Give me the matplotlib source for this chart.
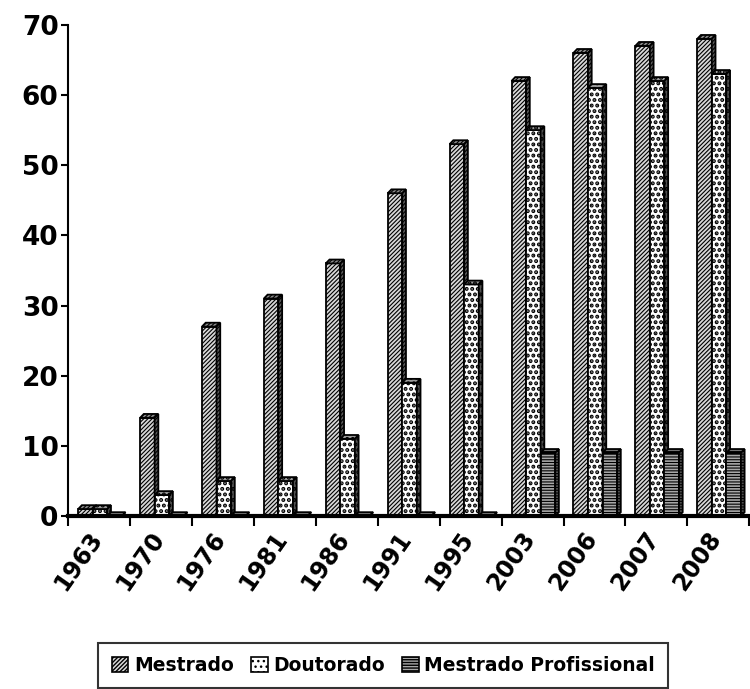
import numpy as np
import matplotlib
matplotlib.use("Agg")
import matplotlib.pyplot as plt
from matplotlib.patches import Polygon, Patch
from matplotlib.transforms import ScaledTranslation

# Number of courses per year
anos = ["1963", "1970", "1976", "1981", "1986", "1991", "1995",
        "2003", "2006", "2007", "2008"]
mestrado = [1, 14, 27, 31, 36, 46, 53, 62, 66, 67, 68]
doutorado = [1, 3, 5, 5, 11, 19, 33, 55, 61, 62, 63]
mestrado_prof = [0, 0, 0, 0, 0, 0, 0, 9, 9, 9, 9]

# name, values, front colour, hatch, hatch linewidth, top colour, side colour
series = [
    ("Mestrado", mestrado, "#d8d8d8", "////////", 0.8, "#8a8a8a", "#5a5a5a"),
    ("Doutorado", doutorado, "white", "...", 2.0, "#9a9a9a", "#505050"),
    ("Mestrado Profissional", mestrado_prof, "#a8a8a8", "------", 0.8, "#8a8a8a", "#505050"),
]

plt.rcParams["font.family"] = "DejaVu Sans"
plt.rcParams["font.weight"] = "bold"

fig = plt.figure(figsize=(7.5, 6.89), dpi=100)
ax = fig.add_axes([0.091, 0.251, 0.908, 0.713])

x = np.arange(len(anos))
width = 0.235
start = -0.5 + 0.16
dx, dy = 0.06, 0.55  # depth of the fake 3D faces

for i, (name, vals, fc, hatch, hlw, topc, sidec) in enumerate(series):
    with plt.rc_context({"hatch.linewidth": hlw}):
        left = x + start + i * width
        bars = ax.bar(left, vals, width=width, align="edge", facecolor=fc,
                      edgecolor="black", linewidth=1.3, hatch=hatch, zorder=3 + i)
        for b in bars:
            x0, h = b.get_x(), b.get_height()
            x1 = x0 + width
            top = Polygon([(x0, h), (x0 + dx, h + dy), (x1 + dx, h + dy), (x1, h)],
                          closed=True, facecolor=topc, edgecolor="black",
                          linewidth=1.3, hatch=hatch, zorder=3 + i)
            side = Polygon([(x1, 0), (x1 + dx, dy), (x1 + dx, h + dy), (x1, h)],
                           closed=True, facecolor=sidec, edgecolor="black",
                           linewidth=1.3, hatch=hatch, zorder=3 + i)
            ax.add_patch(top)
            ax.add_patch(side)

ax.set_xlim(-0.5, len(anos) - 0.5)
ax.set_ylim(0, 70)
ax.set_yticks(range(0, 71, 10))
ax.tick_params(axis="y", labelsize=19, width=1.5, length=5, direction="out", pad=2)

ax.set_xticks(x)
ax.set_xticklabels(anos, rotation=55, ha="right", rotation_mode="anchor", fontsize=17)
ax.set_xticks(np.arange(-0.5, len(anos), 1), minor=True)
ax.tick_params(axis="x", which="major", length=0, pad=8)
ax.tick_params(axis="x", which="minor", length=7, width=1.5, direction="out")
shift = ScaledTranslation(-12 / 100, 0, fig.dpi_scale_trans)
for lbl in ax.get_xticklabels():
    lbl.set_transform(lbl.get_transform() + shift)

for s in ["top", "right"]:
    ax.spines[s].set_visible(False)
ax.spines["left"].set_linewidth(1.5)
ax.spines["bottom"].set_linewidth(3)
ax.spines["bottom"].set_zorder(10)

handles = []
for name, vals, fc, hatch, hlw, topc, sidec in series:
    with plt.rc_context({"hatch.linewidth": hlw}):
        handles.append(Patch(facecolor=fc, edgecolor="black", hatch=hatch,
                             linewidth=1.2, label=name))
leg = fig.legend(handles=handles, loc="upper center", bbox_to_anchor=(0.511, 0.067),
                 ncol=3, fontsize=13.5, frameon=True, fancybox=False, edgecolor="black",
                 handlelength=0.9, handleheight=0.9, handletextpad=0.3, columnspacing=0.9,
                 borderpad=0.7, borderaxespad=0)
leg.get_frame().set_linewidth(1.5)

fig.savefig("out.png", dpi=100)
